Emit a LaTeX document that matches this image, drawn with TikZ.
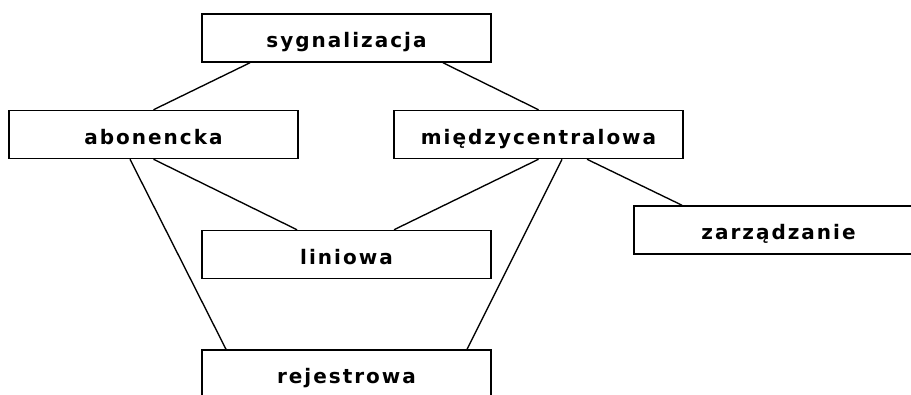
\documentclass[tikz,border=0pt]{standalone}
\usepackage{fontspec}
\setmainfont{DejaVu Sans}[BoldFont={DejaVu Sans Bold}]
\newfontfamily\labelfont{DejaVu Sans Bold}[LetterSpace=10]
\begin{document}
\begin{tikzpicture}[x=1pt,y=-1pt,
  box/.style={draw=black, line width=1.5pt, minimum width=289pt, minimum height=48pt,
              inner sep=0pt, text height=19pt, text depth=0pt,
              font={\fontsize{20}{24}\selectfont\labelfont}},
  link/.style={draw=black, line width=1.35pt}]
  \useasboundingbox (0,0) rectangle (911,394);

  % the six kinds of signalling
  \node[box] (syg)  at (346.5,38)    {sygnalizacja};
  \node[box] (abo)  at (153.5,134.5) {abonencka};
  \node[box] (mie)  at (538.5,134.5) {międzycentralowa};
  \node[box] (lin)  at (346.5,254.5) {liniowa};
  \node[box] (zar)  at (778.5,230)   {zarządzanie};
  \node[box] (rej)  at (346.5,374)   {rejestrowa};

  % links between them
  \path[link] ([xshift=-96.5pt]syg.south) -- (abo.north);
  \path[link] ([xshift=96.5pt]syg.south)  -- (mie.north);
  \path[link] ([xshift=-23.5pt]abo.south) -- ([xshift=-120.5pt]rej.north);
  \path[link] (abo.south)                 -- ([xshift=-49.5pt]lin.north);
  \path[link] (mie.south)                 -- ([xshift=47.5pt]lin.north);
  \path[link] ([xshift=23.5pt]mie.south)  -- ([xshift=120.5pt]rej.north);
  \path[link] ([xshift=48.5pt]mie.south)  -- ([xshift=-96.5pt]zar.north);
\end{tikzpicture}
\end{document}
